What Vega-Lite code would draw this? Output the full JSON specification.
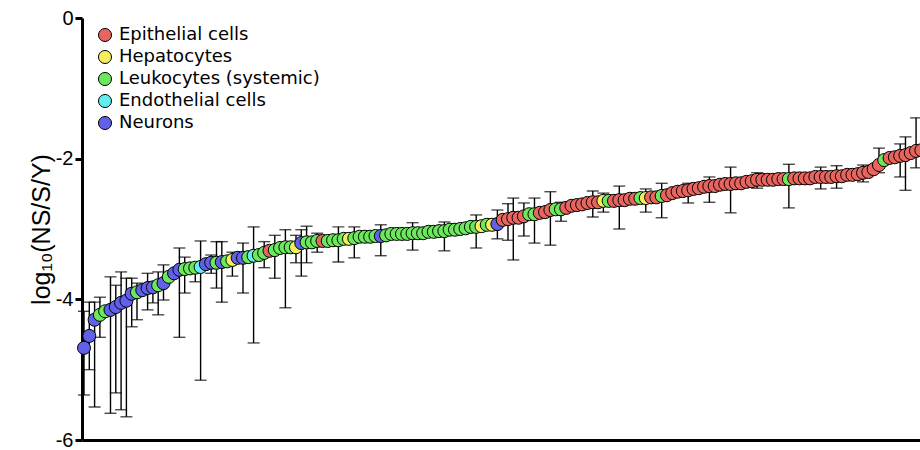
{
 "$schema": "https://vega.github.io/schema/vega-lite/v6.json",
 "width": 838,
 "height": 422,
 "autosize": {"type": "none"},
 "padding": {"left": 82, "top": 18, "right": 0, "bottom": 10},
 "background": "white",
 "config": {
  "view": {"stroke": null},
  "font": "Liberation Sans"
 },
 "data": {"values": [
  {"i":0,"c":"Neurons","v":-4.69,"lo":-5.36,"hi":-4.17},
  {"i":1,"c":"Neurons","v":-4.52,"lo":-5.00,"hi":-4.04},
  {"i":2,"c":"Neurons","v":-4.29,"lo":-5.53,"hi":-4.04},
  {"i":3,"c":"Leukocytes (systemic)","v":-4.22,"lo":-4.54,"hi":-3.97},
  {"i":4,"c":"Leukocytes (systemic)","v":-4.17},
  {"i":5,"c":"Neurons","v":-4.15,"lo":-5.62,"hi":-3.68},
  {"i":6,"c":"Neurons","v":-4.11,"lo":-5.33,"hi":-3.80},
  {"i":7,"c":"Neurons","v":-4.05,"lo":-5.57,"hi":-3.61},
  {"i":8,"c":"Neurons","v":-4.02,"lo":-5.67,"hi":-3.70},
  {"i":9,"c":"Neurons","v":-3.92,"lo":-4.39,"hi":-3.70},
  {"i":10,"c":"Leukocytes (systemic)","v":-3.90,"lo":-4.29,"hi":-3.77},
  {"i":11,"c":"Neurons","v":-3.87},
  {"i":12,"c":"Neurons","v":-3.84,"lo":-4.15,"hi":-3.63},
  {"i":13,"c":"Neurons","v":-3.83,"lo":-4.05,"hi":-3.75},
  {"i":14,"c":"Leukocytes (systemic)","v":-3.80,"lo":-4.22,"hi":-3.61},
  {"i":15,"c":"Neurons","v":-3.77,"lo":-4.01,"hi":-3.51},
  {"i":16,"c":"Leukocytes (systemic)","v":-3.68},
  {"i":17,"c":"Neurons","v":-3.63},
  {"i":18,"c":"Neurons","v":-3.58,"lo":-4.54,"hi":-3.27},
  {"i":19,"c":"Leukocytes (systemic)","v":-3.57,"lo":-3.91,"hi":-3.40},
  {"i":20,"c":"Leukocytes (systemic)","v":-3.56},
  {"i":21,"c":"Leukocytes (systemic)","v":-3.55,"lo":-3.75,"hi":-3.48},
  {"i":22,"c":"Endothelial cells","v":-3.54,"lo":-5.15,"hi":-3.17},
  {"i":23,"c":"Neurons","v":-3.50},
  {"i":24,"c":"Neurons","v":-3.48,"lo":-3.63,"hi":-3.37},
  {"i":25,"c":"Leukocytes (systemic)","v":-3.48,"lo":-3.84,"hi":-3.18},
  {"i":26,"c":"Neurons","v":-3.47,"lo":-4.04,"hi":-3.18},
  {"i":27,"c":"Leukocytes (systemic)","v":-3.46},
  {"i":28,"c":"Hepatocytes","v":-3.44,"lo":-3.67,"hi":-3.33},
  {"i":29,"c":"Neurons","v":-3.41},
  {"i":30,"c":"Neurons","v":-3.41,"lo":-3.91,"hi":-3.20},
  {"i":31,"c":"Leukocytes (systemic)","v":-3.40},
  {"i":32,"c":"Endothelial cells","v":-3.38,"lo":-4.62,"hi":-2.97},
  {"i":33,"c":"Leukocytes (systemic)","v":-3.37},
  {"i":34,"c":"Leukocytes (systemic)","v":-3.34,"lo":-3.55,"hi":-3.18},
  {"i":35,"c":"Epithelial cells","v":-3.31},
  {"i":36,"c":"Leukocytes (systemic)","v":-3.30,"lo":-3.70,"hi":-3.09},
  {"i":37,"c":"Leukocytes (systemic)","v":-3.27},
  {"i":38,"c":"Leukocytes (systemic)","v":-3.26,"lo":-4.12,"hi":-3.01},
  {"i":39,"c":"Leukocytes (systemic)","v":-3.26},
  {"i":40,"c":"Hepatocytes","v":-3.26,"lo":-3.48,"hi":-3.09},
  {"i":41,"c":"Neurons","v":-3.20,"lo":-3.67,"hi":-3.01},
  {"i":42,"c":"Leukocytes (systemic)","v":-3.19,"lo":-3.48,"hi":-2.96},
  {"i":43,"c":"Leukocytes (systemic)","v":-3.19},
  {"i":44,"c":"Leukocytes (systemic)","v":-3.17,"lo":-3.33,"hi":-3.06},
  {"i":45,"c":"Epithelial cells","v":-3.17},
  {"i":46,"c":"Leukocytes (systemic)","v":-3.17},
  {"i":47,"c":"Leukocytes (systemic)","v":-3.16},
  {"i":48,"c":"Leukocytes (systemic)","v":-3.16,"lo":-3.47,"hi":-2.97},
  {"i":49,"c":"Leukocytes (systemic)","v":-3.14},
  {"i":50,"c":"Hepatocytes","v":-3.14},
  {"i":51,"c":"Leukocytes (systemic)","v":-3.13,"lo":-3.41,"hi":-2.97},
  {"i":52,"c":"Leukocytes (systemic)","v":-3.11},
  {"i":53,"c":"Leukocytes (systemic)","v":-3.11},
  {"i":54,"c":"Leukocytes (systemic)","v":-3.11},
  {"i":55,"c":"Leukocytes (systemic)","v":-3.10},
  {"i":56,"c":"Neurons","v":-3.10,"lo":-3.38,"hi":-2.94},
  {"i":57,"c":"Leukocytes (systemic)","v":-3.09},
  {"i":58,"c":"Leukocytes (systemic)","v":-3.07},
  {"i":59,"c":"Leukocytes (systemic)","v":-3.07},
  {"i":60,"c":"Leukocytes (systemic)","v":-3.07},
  {"i":61,"c":"Leukocytes (systemic)","v":-3.07},
  {"i":62,"c":"Leukocytes (systemic)","v":-3.06,"lo":-3.30,"hi":-2.91},
  {"i":63,"c":"Leukocytes (systemic)","v":-3.06},
  {"i":64,"c":"Leukocytes (systemic)","v":-3.06},
  {"i":65,"c":"Leukocytes (systemic)","v":-3.04},
  {"i":66,"c":"Leukocytes (systemic)","v":-3.04},
  {"i":67,"c":"Leukocytes (systemic)","v":-3.03},
  {"i":68,"c":"Leukocytes (systemic)","v":-3.03,"lo":-3.31,"hi":-2.90},
  {"i":69,"c":"Leukocytes (systemic)","v":-3.01},
  {"i":70,"c":"Leukocytes (systemic)","v":-3.01},
  {"i":71,"c":"Leukocytes (systemic)","v":-3.00},
  {"i":72,"c":"Leukocytes (systemic)","v":-2.99},
  {"i":73,"c":"Leukocytes (systemic)","v":-2.97},
  {"i":74,"c":"Leukocytes (systemic)","v":-2.97,"lo":-3.27,"hi":-2.80},
  {"i":75,"c":"Hepatocytes","v":-2.96},
  {"i":76,"c":"Leukocytes (systemic)","v":-2.94},
  {"i":77,"c":"Hepatocytes","v":-2.94},
  {"i":78,"c":"Neurons","v":-2.93,"lo":-3.14,"hi":-2.73},
  {"i":79,"c":"Epithelial cells","v":-2.87},
  {"i":80,"c":"Epithelial cells","v":-2.86,"lo":-3.16,"hi":-2.64},
  {"i":81,"c":"Epithelial cells","v":-2.84,"lo":-3.44,"hi":-2.56},
  {"i":82,"c":"Epithelial cells","v":-2.84},
  {"i":83,"c":"Epithelial cells","v":-2.82,"lo":-3.10,"hi":-2.63},
  {"i":84,"c":"Leukocytes (systemic)","v":-2.79},
  {"i":85,"c":"Leukocytes (systemic)","v":-2.79,"lo":-3.20,"hi":-2.56},
  {"i":86,"c":"Epithelial cells","v":-2.77},
  {"i":87,"c":"Epithelial cells","v":-2.76},
  {"i":88,"c":"Epithelial cells","v":-2.73,"lo":-3.23,"hi":-2.47},
  {"i":89,"c":"Leukocytes (systemic)","v":-2.72},
  {"i":90,"c":"Leukocytes (systemic)","v":-2.72,"lo":-2.89,"hi":-2.62},
  {"i":91,"c":"Epithelial cells","v":-2.70},
  {"i":92,"c":"Epithelial cells","v":-2.67},
  {"i":93,"c":"Epithelial cells","v":-2.66},
  {"i":94,"c":"Epithelial cells","v":-2.65},
  {"i":95,"c":"Epithelial cells","v":-2.63},
  {"i":96,"c":"Epithelial cells","v":-2.62,"lo":-2.83,"hi":-2.46},
  {"i":97,"c":"Epithelial cells","v":-2.62},
  {"i":98,"c":"Hepatocytes","v":-2.60,"lo":-2.76,"hi":-2.49},
  {"i":99,"c":"Leukocytes (systemic)","v":-2.60},
  {"i":100,"c":"Epithelial cells","v":-2.60},
  {"i":101,"c":"Epithelial cells","v":-2.59,"lo":-3.00,"hi":-2.39},
  {"i":102,"c":"Epithelial cells","v":-2.59},
  {"i":103,"c":"Epithelial cells","v":-2.57},
  {"i":104,"c":"Epithelial cells","v":-2.57},
  {"i":105,"c":"Leukocytes (systemic)","v":-2.56},
  {"i":106,"c":"Hepatocytes","v":-2.56,"lo":-2.76,"hi":-2.43},
  {"i":107,"c":"Epithelial cells","v":-2.55},
  {"i":108,"c":"Epithelial cells","v":-2.55},
  {"i":109,"c":"Leukocytes (systemic)","v":-2.53,"lo":-2.84,"hi":-2.35},
  {"i":110,"c":"Epithelial cells","v":-2.52},
  {"i":111,"c":"Epithelial cells","v":-2.49},
  {"i":112,"c":"Epithelial cells","v":-2.47},
  {"i":113,"c":"Epithelial cells","v":-2.46},
  {"i":114,"c":"Epithelial cells","v":-2.45,"lo":-2.63,"hi":-2.35},
  {"i":115,"c":"Epithelial cells","v":-2.43},
  {"i":116,"c":"Epithelial cells","v":-2.42},
  {"i":117,"c":"Epithelial cells","v":-2.40},
  {"i":118,"c":"Epithelial cells","v":-2.39,"lo":-2.62,"hi":-2.26},
  {"i":119,"c":"Epithelial cells","v":-2.39},
  {"i":120,"c":"Epithelial cells","v":-2.37},
  {"i":121,"c":"Epithelial cells","v":-2.36},
  {"i":122,"c":"Epithelial cells","v":-2.36,"lo":-2.77,"hi":-2.12},
  {"i":123,"c":"Epithelial cells","v":-2.35},
  {"i":124,"c":"Epithelial cells","v":-2.35},
  {"i":125,"c":"Epithelial cells","v":-2.33},
  {"i":126,"c":"Epithelial cells","v":-2.32},
  {"i":127,"c":"Epithelial cells","v":-2.30,"lo":-2.42,"hi":-2.20},
  {"i":128,"c":"Epithelial cells","v":-2.30},
  {"i":129,"c":"Epithelial cells","v":-2.30},
  {"i":130,"c":"Epithelial cells","v":-2.30},
  {"i":131,"c":"Epithelial cells","v":-2.29},
  {"i":132,"c":"Epithelial cells","v":-2.29},
  {"i":133,"c":"Leukocytes (systemic)","v":-2.29,"lo":-2.70,"hi":-2.08},
  {"i":134,"c":"Epithelial cells","v":-2.28},
  {"i":135,"c":"Epithelial cells","v":-2.28},
  {"i":136,"c":"Epithelial cells","v":-2.28},
  {"i":137,"c":"Epithelial cells","v":-2.28},
  {"i":138,"c":"Epithelial cells","v":-2.26},
  {"i":139,"c":"Epithelial cells","v":-2.26,"lo":-2.43,"hi":-2.12},
  {"i":140,"c":"Epithelial cells","v":-2.26},
  {"i":141,"c":"Epithelial cells","v":-2.26},
  {"i":142,"c":"Epithelial cells","v":-2.25,"lo":-2.42,"hi":-2.10},
  {"i":143,"c":"Epithelial cells","v":-2.25},
  {"i":144,"c":"Epithelial cells","v":-2.23},
  {"i":145,"c":"Epithelial cells","v":-2.23},
  {"i":146,"c":"Epithelial cells","v":-2.22},
  {"i":147,"c":"Epithelial cells","v":-2.20,"lo":-2.33,"hi":-2.09},
  {"i":148,"c":"Epithelial cells","v":-2.19},
  {"i":149,"c":"Epithelial cells","v":-2.15},
  {"i":150,"c":"Epithelial cells","v":-2.09,"lo":-2.20,"hi":-1.85},
  {"i":151,"c":"Leukocytes (systemic)","v":-2.02},
  {"i":152,"c":"Epithelial cells","v":-1.99},
  {"i":153,"c":"Epithelial cells","v":-1.98},
  {"i":154,"c":"Epithelial cells","v":-1.96,"lo":-2.26,"hi":-1.79},
  {"i":155,"c":"Epithelial cells","v":-1.95,"lo":-2.45,"hi":-1.69},
  {"i":156,"c":"Epithelial cells","v":-1.92},
  {"i":157,"c":"Epithelial cells","v":-1.89,"lo":-2.13,"hi":-1.42},
  {"i":158,"c":"Epithelial cells","v":-1.88}
 ]},
 "encoding": {
  "x": {"field": "i", "type": "quantitative", "scale": {"domain": [-0.377, 157.74], "nice": false, "zero": false}, "axis": {"ticks": false, "labels": false, "grid": false, "domainWidth": 3, "domainColor": "black", "title": null}}
 },
 "layer": [
  {
   "transform": [{"filter": "isValid(datum.lo)"}],
   "mark": {"type": "errorbar", "color": "black", "thickness": 1.4, "ticks": {"size": 12, "thickness": 1.4, "color": "black"}},
   "encoding": {
    "y": {"field": "lo", "type": "quantitative", "scale": {"domain": [-6, 0], "nice": false, "zero": false},
     "axis": {"values": [0, -2, -4, -6], "labelExpr": "datum.value == 0 ? '0' : '-' + abs(datum.value)", "labelFontSize": 20, "labelFont": "Liberation Sans", "labelColor": "black", "tickSize": 7, "tickWidth": 3, "tickColor": "black", "domainWidth": 3, "domainColor": "black", "grid": false, "title": "log₁₀(NS/S/Y)", "titleFontSize": 25, "titleFontWeight": "normal", "titleFont": "Liberation Sans", "titleColor": "black", "titlePadding": 1, "labelPadding": 2}},
    "y2": {"field": "hi"}
   }
  },
  {
   "mark": {"type": "point", "filled": true, "size": 170, "stroke": "black", "strokeWidth": 1, "opacity": 1},
   "encoding": {
    "y": {"field": "v", "type": "quantitative", "scale": {"domain": [-6, 0], "nice": false, "zero": false},
     "axis": {"values": [0, -2, -4, -6], "labelExpr": "datum.value == 0 ? '0' : '-' + abs(datum.value)", "labelFontSize": 20, "labelFont": "Liberation Sans", "labelColor": "black", "tickSize": 7, "tickWidth": 3, "tickColor": "black", "domainWidth": 3, "domainColor": "black", "grid": false, "title": "log₁₀(NS/S/Y)", "titleFontSize": 25, "titleFontWeight": "normal", "titleFont": "Liberation Sans", "titleColor": "black", "titlePadding": 1, "labelPadding": 2}},
    "color": {"field": "c", "type": "nominal",
     "scale": {"domain": ["Epithelial cells", "Hepatocytes", "Leukocytes (systemic)", "Endothelial cells", "Neurons"], "range": ["#E8645E", "#F2EE5C", "#6BE85C", "#62EEEE", "#6060E8"]},
     "legend": {"orient": "none", "legendX": 14, "legendY": 8, "title": null, "labelFontSize": 18, "labelFont": "DejaVu Sans", "labelColor": "black", "labelLimit": 0, "symbolSize": 170, "symbolType": "circle", "symbolStrokeColor": "black", "symbolStrokeWidth": 1, "symbolOpacity": 1, "rowPadding": 4, "labelOffset": 5, "padding": 0}}
   }
  }
 ]
}
